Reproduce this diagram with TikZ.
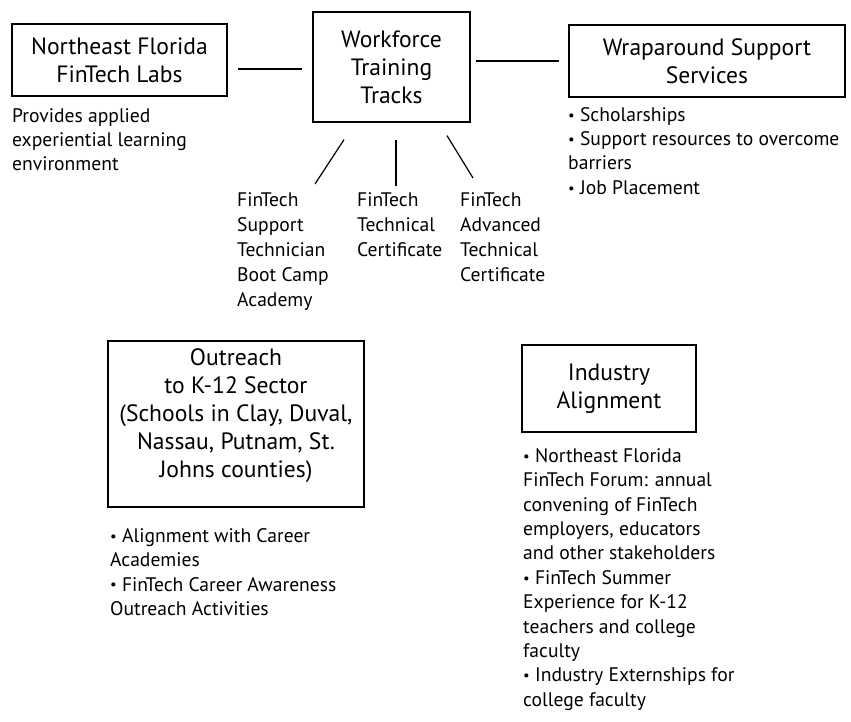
\documentclass[tikz,border=0pt]{standalone}
\usepackage{fontspec}
\usepackage{graphicx}
\setmainfont{PT Sans}
\usetikzlibrary{calc}
\newcommand{\fst}{\rule{0pt}{16pt}}
\newcommand{\bul}{\raisebox{0.12ex}{\scalebox{0.75}{•}}}
\begin{document}
\begin{tikzpicture}[x=1pt,y=-1pt,
  box/.style={draw, line width=1.3pt, inner sep=0pt, align=center,
    font=\fontsize{23.6}{28}\selectfont},
  txt/.style={inner sep=0pt, anchor=north west, align=left,
    font=\fontsize{19.6}{24.4}\selectfont},
  conn/.style={line width=1.2pt}]
\useasboundingbox (0,0) rectangle (851,722);
\node[box, minimum width=215pt, minimum height=72pt] (ne) at (119.5,60) {Northeast Florida\\FinTech Labs};
\node[box, minimum width=157pt, minimum height=110pt] (wf) at (391.5,67) {Workforce\\Training\\Tracks};
\node[box, minimum width=276pt, minimum height=72pt] (wrap) at (707,61) {Wraparound Support\\Services};
\node[box, minimum width=256pt, minimum height=166pt] (out) at (236,424) {Outreach\\to K-12 Sector\\(Schools in Clay, Duval,\\Nassau, Putnam, St.\\Johns counties)\rule[-22pt]{0pt}{1pt}};
\node[box, minimum width=174pt, minimum height=87pt] (ind) at (609,388.5) {Industry\\Alignment};

\node[txt] (nesub) at (12,106) {\fst Provides applied\\experiential learning\\environment};
\node[txt] (wrapsub) at (568,105) {\fst \bul{} Scholarships\\\bul{} Support resources to overcome\\barriers\\\bul{} Job Placement};
\node[txt, font=\fontsize{19.6}{25}\selectfont] (t1) at (237,190) {\fst FinTech\\Support\\Technician\\Boot Camp\\Academy};
\node[txt, font=\fontsize{19.6}{25}\selectfont] (t2) at (357,190) {\fst FinTech\\Technical\\Certificate};
\node[txt, font=\fontsize{19.6}{25}\selectfont] (t3) at (460,190) {\fst FinTech\\Advanced\\Technical\\Certificate};
\node[txt] (outsub) at (110,526) {\fst \bul{} Alignment with Career\\Academies\\\bul{} FinTech Career Awareness\\Outreach Activities};
\node[txt] (indsub) at (523,446) {\fst \bul{} Northeast Florida\\FinTech Forum: annual\\convening of FinTech\\employers, educators\\and other stakeholders\\\bul{} FinTech Summer\\Experience for K-12\\teachers and college\\faculty\\\bul{} Industry Externships for\\college faculty};

\draw[conn] ($(ne.east)+(10,9)$) -- ($(wf.west)+(-10,2)$);
\draw[conn] ($(wf.east)+(5,-6)$) -- ($(wrap.west)+(-9,0)$);
\draw[conn] ($(wf.south)+(-47.5,17)$) -- ($(t1.north west)+(78,-6)$);
\draw[conn] ($(wf.south)+(4.5,17)$) -- ($(t2.north west)+(39,-4)$);
\draw[conn] ($(wf.south)+(55.5,13)$) -- ($(t3.north west)+(13,-12)$);
\end{tikzpicture}
\end{document}
